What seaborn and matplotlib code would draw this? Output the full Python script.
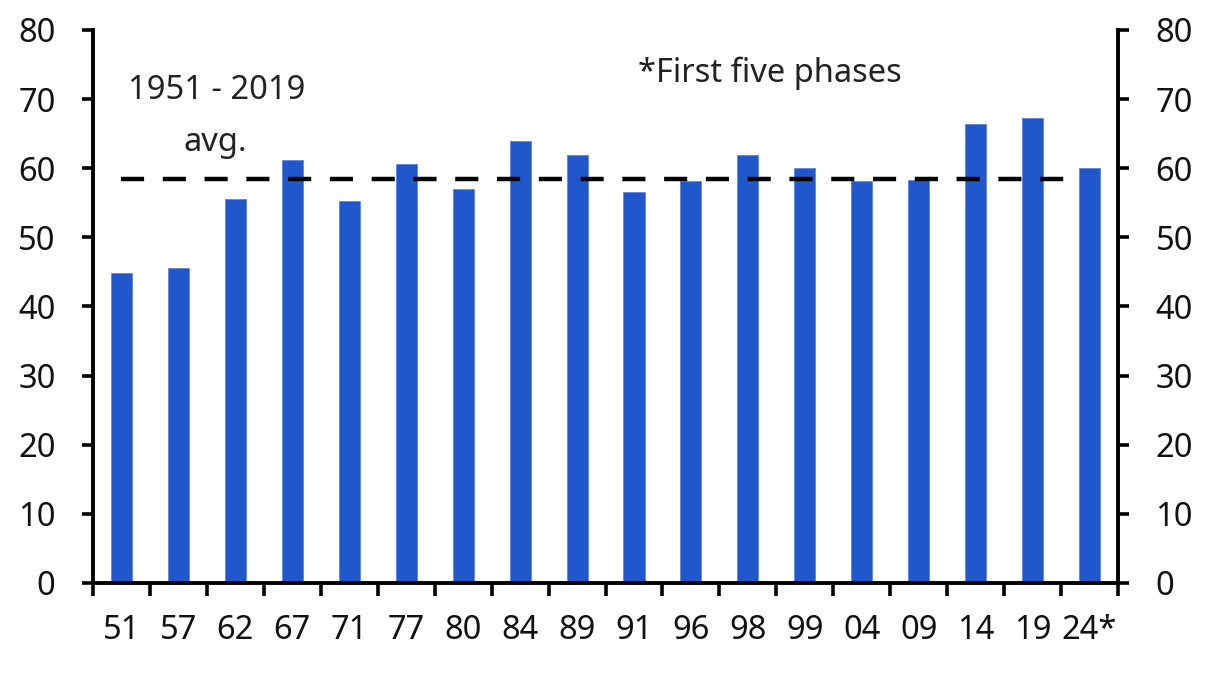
import numpy as np
import pandas as pd
import matplotlib
import matplotlib.pyplot as plt
import seaborn as sns
from matplotlib.ticker import FixedLocator

matplotlib.use('Agg')
sns.set_theme(style='white')
plt.rcParams['font.family'] = ['Noto Sans', 'DejaVu Sans']

# Data
years = ['51', '57', '62', '67', '71', '77', '80', '84', '89',
         '91', '96', '98', '99', '04', '09', '14', '19', '24*']
turnout = [44.8, 45.6, 55.5, 61.2, 55.3, 60.6, 57.0, 63.9, 61.9,
           56.6, 58.2, 61.9, 60.0, 58.2, 58.3, 66.4, 67.3, 60.0]
avg_1951_2019 = 58.5
y_ticks = [0, 10, 20, 30, 40, 50, 60, 70, 80]

df = pd.DataFrame({'year': years, 'turnout': turnout})

BLUE = '#2058CC'
FS = 23.5

fig = plt.figure(figsize=(12.08, 6.75), dpi=100)
ax = fig.add_axes([0.077, 0.1363, 0.8485, 0.8193])

sns.barplot(data=df, x='year', y='turnout', order=years, color=BLUE,
            saturation=1, width=0.37, edgecolor='#5d86e0', linewidth=0.6, ax=ax)

# 1951-2019 average, dashed
ax.hlines(avg_1951_2019, 0, len(years) - 1.25, colors='black', lw=3.2,
          linestyles=(0, (5.2, 4.2)), zorder=5)

ax.set_xlim(-0.5, len(years) - 0.5)
ax.set_ylim(0, 80)
ax.set_yticks(y_ticks)
ax.set_xlabel('')
ax.set_ylabel('')

# x ticks between categories, labels centred under bars
ax.xaxis.set_minor_locator(FixedLocator(np.arange(-0.5, len(years), 1.0)))
ax.tick_params(axis='x', which='major', length=0, pad=22, labelsize=FS, labelcolor='#111111')
ax.tick_params(axis='x', which='minor', bottom=True, direction='out', length=9, width=2.6, color='black')
ax.tick_params(axis='y', left=True, right=True, labelleft=True, labelright=True,
               direction='out', length=8, width=2.6, color='black', pad=19,
               labelsize=FS, labelcolor='#111111')

for side in ['left', 'right', 'bottom']:
    ax.spines[side].set_visible(True)
    ax.spines[side].set_color('black')
    ax.spines[side].set_linewidth(2.8)
ax.spines['top'].set_visible(False)
ax.grid(False)

ax.text(1.68, 71.3, '1951 - 2019', ha='center', va='center', fontsize=FS, color='#222222')
ax.text(1.65, 63.7, 'avg.', ha='center', va='center', fontsize=FS, color='#222222')
ax.text(11.38, 73.8, '*First five phases', ha='center', va='center', fontsize=FS, color='#222222')

plt.savefig('out.png', dpi=100)
plt.close()
